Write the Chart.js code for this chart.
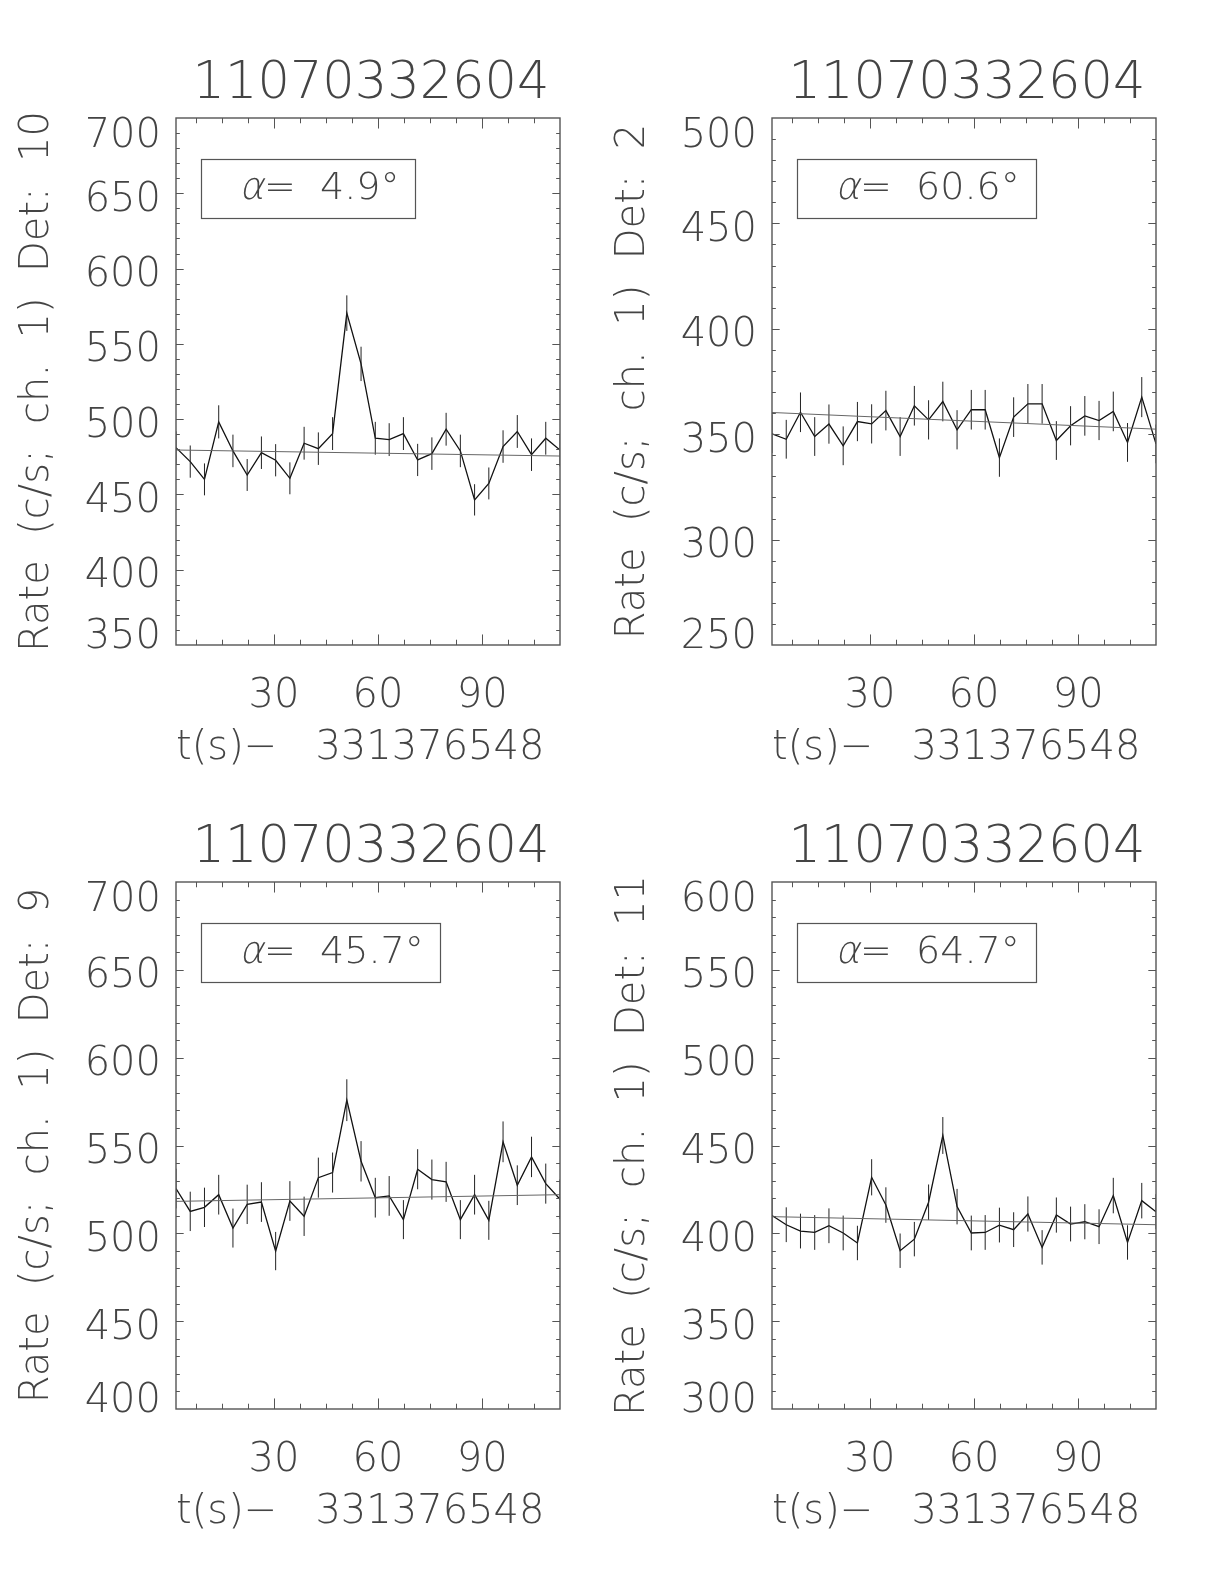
<!DOCTYPE html>
<html>
<head>
<meta charset="utf-8">
<script src="https://cdn.jsdelivr.net/npm/chart.js@4.4.1/dist/chart.umd.min.js"></script>
<style>
  body { margin: 0; background: #fff; width: 1224px; height: 1584px; position: relative; overflow: hidden; }
  .panel { position: absolute; width: 596px; height: 792px; }
</style>
</head>
<body>
<div class="panel" style="left:0;top:0"><canvas id="p10" width="596" height="792"></canvas></div>
<div class="panel" style="left:596px;top:0"><canvas id="p2" width="596" height="792"></canvas></div>
<div class="panel" style="left:0;top:764px"><canvas id="p9" width="596" height="792"></canvas></div>
<div class="panel" style="left:596px;top:764px"><canvas id="p11" width="596" height="792"></canvas></div>
<script>
// light curves, 4.096 s bins, t - 331376548
const obsId = '11070332604';
const tRef = '331376548';
const times = [1.8, 5.9, 10.0, 14.1, 18.2, 22.3, 26.4, 30.5, 34.6, 38.7, 42.8, 46.9, 51.0, 55.1,
  59.2, 63.2, 67.3, 71.4, 75.5, 79.6, 83.7, 87.8, 91.9, 96.0, 100.1, 104.2, 108.3, 112.4];
const xTicks = [30, 60, 90];

// Det 10
const rate10 = [481.1, 471.8, 460.0, 498.2, 478.9, 462.9, 477.7, 472.7, 460.7, 484.0, 480.4, 490.4, 570.4, 536.7,
  487.3, 486.4, 490.4, 472.9, 477.1, 493.3, 478.9, 446.4, 457.3, 481.8, 491.8, 476.4, 487.3, 479.5];
const err10 = [10.8, 10.7, 10.6, 11.0, 10.8, 10.6, 10.8, 10.7, 10.6, 10.9, 10.8, 10.9, 11.8, 11.4,
  10.9, 10.9, 10.9, 10.7, 10.8, 10.9, 10.8, 10.4, 10.6, 10.8, 10.9, 10.8, 10.9, 10.8];
const bg10 = [479.5, 475.5];
const yTicks10 = [350, 400, 450, 500, 550, 600, 650, 700];
const alpha10 = '4.9';

// Det 2
const rate2 = [350.2, 347.6, 360.4, 348.9, 354.8, 344.5, 356.0, 354.9, 361.2, 348.9, 363.5, 356.8, 365.5, 352.1,
  361.6, 361.6, 338.9, 358.1, 364.4, 364.4, 347.0, 354.0, 358.7, 356.5, 360.8, 346.1, 367.6, 345.4];
const err2 = [9.2, 9.2, 9.4, 9.2, 9.3, 9.2, 9.3, 9.3, 9.4, 9.2, 9.4, 9.3, 9.4, 9.3,
  9.4, 9.4, 9.1, 9.4, 9.4, 9.4, 9.2, 9.3, 9.4, 9.3, 9.4, 9.2, 9.5, 9.2];
const bg2 = [360.3, 352.4];
const yTicks2 = [250, 300, 350, 400, 450, 500];
const alpha2 = '60.6';

// Det 9
const rate9 = [525.5, 512.5, 514.8, 522.0, 503.0, 516.5, 517.8, 489.9, 518.4, 509.7, 531.7, 534.6, 575.8, 541.0,
  520.3, 521.3, 507.8, 536.5, 530.6, 529.3, 507.8, 522.0, 507.4, 552.1, 527.4, 543.5, 528.3, 519.4];
const err9 = [11.3, 11.2, 11.2, 11.3, 11.1, 11.2, 11.3, 10.9, 11.3, 11.2, 11.4, 11.4, 11.9, 11.5,
  11.3, 11.3, 11.1, 11.4, 11.4, 11.4, 11.1, 11.3, 11.1, 11.6, 11.3, 11.5, 11.4, 11.3];
const bg9 = [518.2, 522.0];
const yTicks9 = [400, 450, 500, 550, 600, 650, 700];
const alpha9 = '45.7';

// Det 11
const rate11 = [410.1, 404.9, 401.3, 400.5, 404.3, 400.2, 394.5, 431.9, 416.1, 390.1, 396.7, 417.7, 455.7, 415.2,
  400.2, 400.5, 404.7, 402.1, 411.0, 392.0, 410.4, 405.3, 406.6, 403.8, 421.5, 394.8, 418.6, 412.3];
const err11 = [10.0, 9.9, 9.9, 9.9, 9.9, 9.9, 9.8, 10.3, 10.1, 9.8, 9.8, 10.1, 10.5, 10.1,
  9.9, 9.9, 9.9, 9.9, 10.0, 9.8, 10.0, 9.9, 10.0, 9.9, 10.1, 9.8, 10.1, 10.0];
const bg11 = [409.5, 404.9];
const yTicks11 = [300, 350, 400, 450, 500, 550, 600];
const alpha11 = '64.7';

const FAMILY = "'DejaVu Sans', sans-serif";
const INK = '#444';
const font = (size) => ({ family: FAMILY, size, weight: 200 });

// IDL-style frame: box + inward ticks on all four sides
const framePlugin = {
  id: 'idlFrame',
  afterDatasetsDraw(chart) {
    const { ctx, chartArea: a, scales: { x, y } } = chart;
    ctx.save();
    ctx.strokeStyle = '#555';
    ctx.lineWidth = 1.4;
    ctx.strokeRect(a.left, a.top, a.right - a.left, a.bottom - a.top);
    ctx.lineWidth = 1;
    const xMaj = 0.02 * (a.bottom - a.top), yMaj = 0.02 * (a.right - a.left);
    ctx.beginPath();
    for (let v = 7.5; v < x.max; v += 7.5) {
      if (v <= x.min) continue;
      const px = Math.round(x.getPixelForValue(v)) + 0.5;
      const len = xTicks.includes(v) ? xMaj : xMaj / 2;
      ctx.moveTo(px, a.bottom); ctx.lineTo(px, a.bottom - len);
      ctx.moveTo(px, a.top); ctx.lineTo(px, a.top + len);
    }
    const yt = chart.options.scales.y.min;
    for (let v = yt + 10; v < y.max; v += 10) {
      const py = Math.round(y.getPixelForValue(v)) + 0.5;
      const len = (v - yt) % 50 === 0 ? yMaj : yMaj / 2;
      ctx.moveTo(a.left, py); ctx.lineTo(a.left + len, py);
      ctx.moveTo(a.right, py); ctx.lineTo(a.right - len, py);
    }
    ctx.stroke();
    ctx.restore();
  }
};

// title above the plot and the boxed off-axis angle
const labelPlugin = {
  id: 'idlLabels',
  afterDraw(chart, args, opts) {
    const { ctx, chartArea: a } = chart;
    ctx.save();
    ctx.fillStyle = INK;
    ctx.textAlign = 'center';
    ctx.textBaseline = 'alphabetic';
    ctx.font = `200 51px ${FAMILY}`;
    ctx.fillText(obsId, (a.left + a.right) / 2 + 3, a.top - 20);

    const bx = a.left + 25, by = a.top + 41, base = a.top + 81;
    const tx = bx + 38;
    ctx.textAlign = 'left';
    ctx.font = `200 38px ${FAMILY}`;
    // slanted alpha, keeping the thin weight
    ctx.save();
    ctx.translate(tx, base);
    ctx.transform(1, 0, -0.22, 1, 0, 0);
    ctx.fillText('α', 0, 0);
    ctx.restore();
    const aw = ctx.measureText('α').width;
    const rest = '=  ' + opts.alpha + '°';
    ctx.fillText(rest, tx + aw, base);
    const end = tx + aw + ctx.measureText(rest).width;
    ctx.strokeStyle = '#555';
    ctx.lineWidth = 1.2;
    ctx.strokeRect(Math.round(bx) + 0.5, Math.round(by) + 0.5, Math.round(end + 16 - bx), 59);
    ctx.restore();
  }
};

function makePanel(id, det, rate, err, bg, yTicks, alpha) {
  const last = times.length - 1;
  const lastTick = yTicks.length - 1;
  const errPts = times.flatMap((t, i) => [
    { x: t, y: rate[i] - err[i] }, { x: t, y: rate[i] + err[i] }, { x: t, y: null }
  ]);
  return new Chart(document.getElementById(id), {
    type: 'line',
    data: {
      datasets: [
        { data: [{ x: times[0], y: bg[0] }, { x: times[last], y: bg[1] }],
          borderColor: '#666', borderWidth: 1, pointRadius: 0 },
        { data: errPts, borderColor: '#222', borderWidth: 1, pointRadius: 0, spanGaps: false },
        { data: times.map((t, i) => ({ x: t, y: rate[i] })),
          borderColor: '#111', borderWidth: 1.3, pointRadius: 0, tension: 0 },
      ],
    },
    options: {
      responsive: false,
      animation: false,
      events: [],
      layout: { padding: { top: 118, right: 36, left: 0, bottom: 0 } },
      plugins: {
        legend: { display: false },
        tooltip: { enabled: false },
        idlLabels: { alpha },
      },
      scales: {
        x: {
          type: 'linear',
          min: times[0],
          max: times[last],
          afterBuildTicks: s => { s.ticks = xTicks.map(v => ({ value: v })); },
          afterFit: s => { s.height = 147; },
          grid: { display: false, drawTicks: false },
          border: { display: false },
          ticks: { padding: 28, color: INK, font: font(40), maxRotation: 0, autoSkip: false },
          title: { display: true, text: 't(s)−   ' + tRef, align: 'start', color: INK, font: font(40),
            padding: { top: 0, bottom: 19 } },
        },
        y: {
          min: yTicks[0],
          max: yTicks[lastTick],
          afterBuildTicks: s => { s.ticks = yTicks.map(v => ({ value: v })); },
          afterFit: s => { s.width = 176; },
          grid: { display: false, drawTicks: false },
          border: { display: false },
          ticks: {
            padding: 15,
            color: INK,
            autoSkip: false,
            labelOffset: 7,
            // end labels sit inside the axis, as IDL draws them
            callback: (v, i) => i === 0 ? [String(v), ''] : i === lastTick ? ['', String(v)] : String(v),
            font: ctx => ({ family: FAMILY, size: 40, weight: 200,
              lineHeight: ctx.index === 0 ? '29px' : ctx.index === lastTick ? '23px' : 1.2 }),
          },
          title: { display: true, text: 'Rate  (c/s;  ch.  1)  Det:  ' + det, color: INK, font: font(40),
            padding: { top: 14, bottom: 0 } },
        },
      },
    },
    plugins: [framePlugin, labelPlugin],
  });
}

makePanel('p10', '10', rate10, err10, bg10, yTicks10, alpha10);
makePanel('p2', '2', rate2, err2, bg2, yTicks2, alpha2);
makePanel('p9', '9', rate9, err9, bg9, yTicks9, alpha9);
makePanel('p11', '11', rate11, err11, bg11, yTicks11, alpha11);
</script>
</body>
</html>
